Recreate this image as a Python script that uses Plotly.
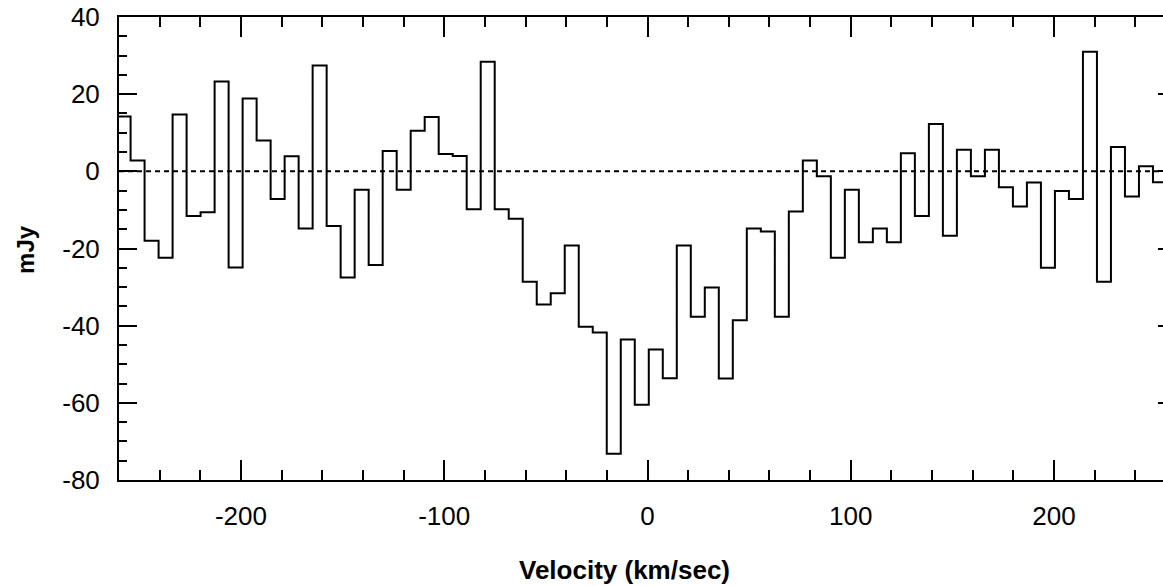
import plotly.graph_objects as go

# Channel centre velocities (km/sec)
velocity = [
    -257.75, -250.86, -243.97, -237.08, -230.19, -223.30, -216.41, -209.52, -202.63, -195.74,
    -188.85, -181.96, -175.07, -168.18, -161.29, -154.40, -147.51, -140.62, -133.73, -126.84,
    -119.95, -113.06, -106.17, -99.28, -92.39, -85.50, -78.61, -71.72, -64.83, -57.94,
    -51.05, -44.16, -37.27, -30.38, -23.49, -16.60, -9.71, -2.82, 4.07, 10.96,
    17.85, 24.74, 31.63, 38.52, 45.41, 52.30, 59.19, 66.08, 72.97, 79.86,
    86.75, 93.64, 100.53, 107.42, 114.31, 121.20, 128.09, 134.98, 141.87, 148.76,
    155.65, 162.54, 169.43, 176.32, 183.21, 190.10, 196.99, 203.88, 210.77, 217.66,
    224.55, 231.44, 238.33, 245.22, 252.11, 259.00,
]

# Flux density per channel (mJy)
flux = [
    14.2, 2.8, -18.0, -22.4, 14.7, -11.6, -10.6, 23.3, -24.9, 18.9,
    8.0, -7.2, 3.9, -14.8, 27.4, -14.2, -27.5, -4.8, -24.3, 5.3,
    -4.8, 10.5, 14.1, 4.5, 4.0, -9.8, 28.4, -9.8, -12.3, -28.6,
    -34.5, -31.6, -19.2, -40.3, -41.8, -73.2, -43.6, -60.5, -46.2, -53.6,
    -19.2, -37.7, -30.1, -53.7, -38.6, -14.8, -15.6, -37.7, -10.4, 2.8,
    -1.3, -22.4, -4.8, -18.4, -14.8, -18.4, 4.7, -11.6, 12.3, -16.7,
    5.6, -1.3, 5.6, -4.1, -9.1, -2.9, -25.0, -5.1, -7.2, 31.0,
    -28.6, 6.3, -6.5, 1.3, -2.8, -3.0,
]

x_tickvals = [-200, -100, 0, 100, 200]
x_ticktext = ["-200", "-100", "0", "100", "200"]
y_tickvals = [-80, -60, -40, -20, 0, 20, 40]
y_ticktext = ["-80", "-60", "-40", "-20", "0", "20", "40"]
x_minor = [-240, -220, -180, -160, -140, -120, -80, -60, -40, -20,
           20, 40, 60, 80, 120, 140, 160, 180, 220, 240]
y_minor = [-75, -70, -65, -55, -50, -45, -35, -30, -25, -15, -10, -5,
           5, 10, 15, 25, 30, 35]

x_title = "<b>Velocity (km/sec)</b>"
y_title = "<b>mJy</b>"

# Build step edges from channel centres
edges = [velocity[0] - (velocity[1] - velocity[0]) / 2]
for a, b in zip(velocity[:-1], velocity[1:]):
    edges.append((a + b) / 2)
step_x = edges + [velocity[-1] + (velocity[-1] - velocity[-2]) / 2]
step_y = flux + [flux[-1]]

FONT = "Liberation Sans, Arial, sans-serif"

fig = go.Figure()
fig.add_trace(go.Scatter(
    x=step_x, y=step_y, mode="lines", line_shape="hv",
    line=dict(color="black", width=2), showlegend=False, hoverinfo="skip",
))
fig.add_shape(type="line", xref="paper", x0=0, x1=1, yref="y", y0=0, y1=0,
              line=dict(color="black", width=2, dash="5px,4px"))

axis_common = dict(
    showline=True, linewidth=2, linecolor="black", mirror="allticks",
    ticks="inside", tickwidth=2, tickcolor="black",
    showgrid=False, zeroline=False, automargin=False,
    tickfont=dict(family=FONT, size=26, color="black"),
)

fig.update_xaxes(
    **axis_common, range=[-260, 260], tickmode="array",
    tickvals=x_tickvals, ticktext=x_ticktext, ticklen=20, ticklabelstandoff=12,
    minor=dict(ticks="inside", ticklen=10, tickwidth=2, tickcolor="black",
               tickmode="array", tickvals=x_minor),
)
fig.update_yaxes(
    **axis_common, range=[-80, 40], tickmode="array",
    tickvals=y_tickvals, ticktext=y_ticktext, ticklen=18, ticklabelstandoff=12,
    minor=dict(ticks="inside", ticklen=8, tickwidth=2, tickcolor="black",
               tickmode="array", tickvals=y_minor),
)

fig.update_layout(
    width=1190, height=586,
    margin=dict(l=119, r=14, t=17, b=106, autoexpand=False),
    paper_bgcolor="white", plot_bgcolor="white",
    annotations=[
        dict(text=x_title, xref="paper", yref="paper", x=0.478, y=-0.194,
             xanchor="center", yanchor="middle", showarrow=False,
             font=dict(family=FONT, size=26, color="black")),
        dict(text=y_title, xref="paper", yref="paper", x=-0.088, y=0.499,
             xanchor="center", yanchor="middle", showarrow=False, textangle=-90,
             font=dict(family=FONT, size=24, color="black")),
    ],
)

fig.write_html(
    "out.html",
    config={"displayModeBar": False},
    post_script="document.body.style.margin='0';document.body.style.overflow='hidden';"
                "document.documentElement.style.overflow='hidden';",
)
